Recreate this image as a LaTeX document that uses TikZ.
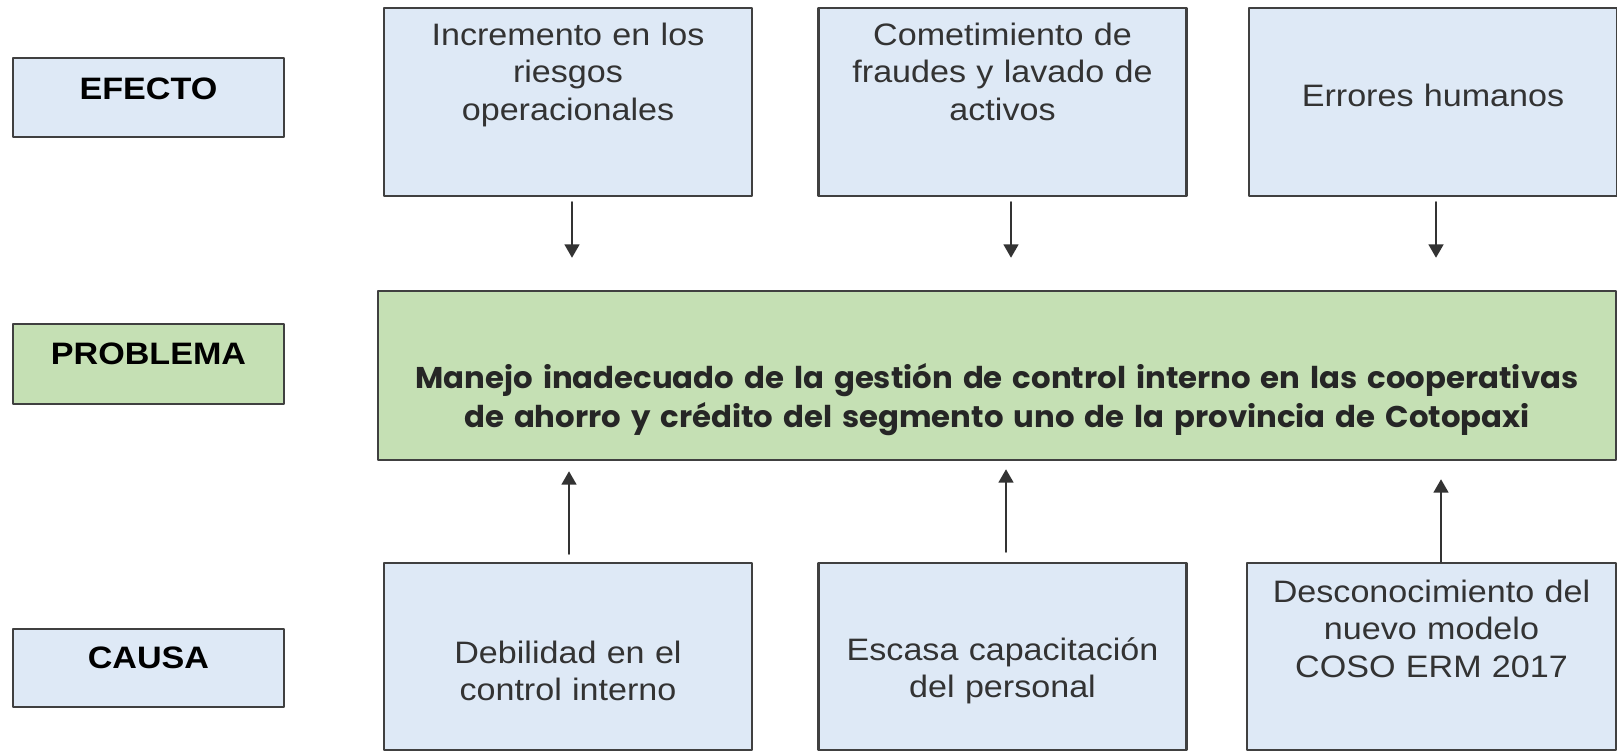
\documentclass[tikz,border=0pt]{standalone}
\usepackage{fontspec}
\setmainfont{Liberation Sans}[FakeStretch=1.1]
\newfontfamily\probfont{Poppins}[FakeStretch=1.025]
\usepackage{tikz}
\usetikzlibrary{arrows.meta}
\usetikzlibrary{calc}
\usetikzlibrary{positioning}

\definecolor{lightblue}{RGB}{222,233,246}
\definecolor{lightgreen}{RGB}{197,224,180}
\definecolor{bordergray}{RGB}{64,64,64}
\definecolor{textgray}{RGB}{51,51,51}

\newcommand{\boxfont}{\fontsize{8.82pt}{10.67pt}\selectfont}
\newcommand{\labelfont}{\fontsize{8.82pt}{10.67pt}\selectfont\bfseries}
\newcommand{\problemfont}{\probfont\fontsize{8.54pt}{11.24pt}\selectfont\bfseries}

\begin{document}
\begin{tikzpicture}[line cap=round,line join=round,>={Triangle[width=4.2pt,length=3.8pt]},x=1.0cm,y=1.0cm,
  box/.style={draw=bordergray,line width=0.7pt,inner xsep=0pt,inner ysep=0pt,align=center},
  tagbox/.style={box,text width=2.71cm,font=\labelfont,text=black},
  effbox/.style={box,fill=lightblue,text width=3.68cm,font=\boxfont,text=textgray},
  probbox/.style={box,fill=lightgreen,text width=12.38cm,font=\problemfont,text=black!85},
  arr/.style={->,draw=textgray,line width=0.6pt}]
% Draw region settings
\useasboundingbox (0,0) rectangle (16.17,7.52);
% Left column
\node (efecto) [tagbox,fill=lightblue,text height=0.41cm,text depth=0.38cm] at (1.485,6.545) {EFECTO};
\node (problema) [tagbox,fill=lightgreen,text height=0.40cm,text depth=0.40cm] at (1.485,3.88) {PROBLEMA};
\node (causa) [tagbox,fill=lightblue,text height=0.39cm,text depth=0.39cm] at (1.485,0.84) {CAUSA};
% Effects
\node (eff1) [effbox,text height=0.37cm,text depth=1.51cm] at (5.68,6.50) {Incremento en los\\riesgos\\operacionales};
\node (eff2) [effbox,text height=0.37cm,text depth=1.51cm] at (10.025,6.50) {Cometimiento de\\fraudes y lavado de\\activos};
\node (eff3) [effbox,text height=0.98cm,text depth=0.90cm] at (14.33,6.50) {Errores humanos};
% Problem
\node (prob) [probbox,text height=0.97cm,text depth=0.72cm] at (9.97,3.765)
  {Manejo inadecuado de la gestión de control interno en las cooperativas\\de ahorro y crédito del segmento uno de la provincia de Cotopaxi};
% Causes
\node (cau1) [effbox,text height=1.00cm,text depth=0.87cm] at (5.68,0.955) {Debilidad en el\\control interno};
\node (cau2) [effbox,text height=0.97cm,text depth=0.90cm] at (10.025,0.955) {Escasa capacitación\\del personal};
\node (cau3) [effbox,text width=3.69cm,text height=0.39cm,text depth=1.48cm] at (14.315,0.955) {Desconocimiento del\\nuevo modelo\\COSO ERM 2017};
% Arrows effect
\draw[arr,shorten <=0.05cm,shorten >=0.32cm] ([xshift=0.04cm]eff1.south) -- ([xshift=0.04cm]eff1.south |- prob.north);
\draw[arr,shorten <=0.05cm,shorten >=0.32cm] ([xshift=0.085cm]eff2.south) -- ([xshift=0.085cm]eff2.south |- prob.north);
\draw[arr,shorten <=0.05cm,shorten >=0.32cm] ([xshift=0.03cm]eff3.south) -- ([xshift=0.03cm]eff3.south |- prob.north);
% Arrows cause
\draw[arr,shorten <=0.08cm,shorten >=0.10cm] ([xshift=0.01cm]cau1.north) -- ([xshift=0.01cm]cau1.north |- prob.south);
\draw[arr,shorten <=0.10cm,shorten >=0.08cm] ([xshift=0.035cm]cau2.north) -- ([xshift=0.035cm]cau2.north |- prob.south);
\draw[arr,shorten >=0.18cm] ([xshift=0.095cm]cau3.north) -- ([xshift=0.095cm]cau3.north |- prob.south);
\end{tikzpicture}
\end{document}
